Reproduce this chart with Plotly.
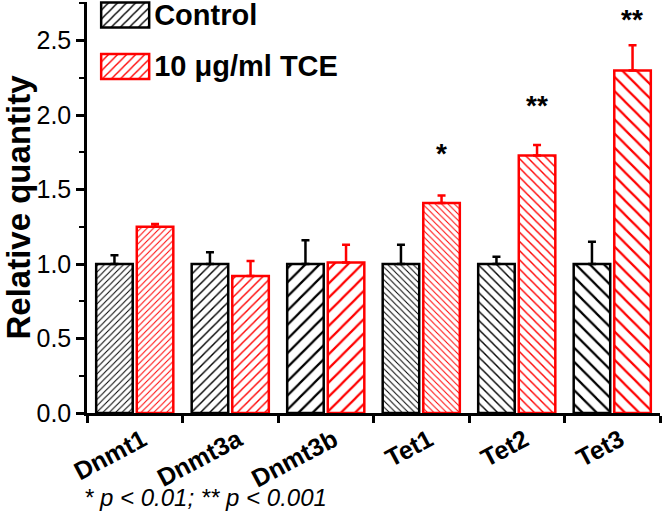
import plotly.graph_objects as go

genes = ["Dnmt1", "Dnmt3a", "Dnmt3b", "Tet1", "Tet2", "Tet3"]
control_vals = [1.00, 1.00, 1.00, 1.00, 1.00, 1.00]
control_err = [0.06, 0.08, 0.16, 0.13, 0.05, 0.15]
tce_vals = [1.25, 0.92, 1.01, 1.41, 1.73, 2.30]
tce_err = [0.02, 0.10, 0.12, 0.05, 0.07, 0.17]
significance = ["", "", "", "*", "**", "**"]
y_ticks = [0.0, 0.5, 1.0, 1.5, 2.0, 2.5]
footnote = "* p < 0.01; ** p < 0.001"

# styling
shapes = ["/", "/", "/", "\\", "\\", "\\"]
sizes = [4.5, 6.5, 10, 4.5, 6.5, 10]
star_shift = [0, 0, 0, 25, 22, 8]
FONT = "Liberation Sans, Arial, sans-serif"

fig = go.Figure()
fig.add_trace(go.Bar(
    x=genes, y=control_vals, name="Control", legendgroup="c",
    marker=dict(color="white", line=dict(color="black", width=2.5),
                pattern=dict(shape=shapes, size=sizes, solidity=0.22,
                             fgcolor="black", bgcolor="white", fillmode="replace")),
    error_y=dict(type="data", array=control_err, arrayminus=[0]*6, symmetric=False,
                 color="black", thickness=2.5, width=4),
))
fig.add_trace(go.Bar(
    x=genes, y=tce_vals, name="10 μg/ml TCE", legendgroup="t",
    marker=dict(color="white", line=dict(color="red", width=2.5),
                pattern=dict(shape=shapes, size=sizes, solidity=0.22,
                             fgcolor="red", bgcolor="white", fillmode="replace")),
    error_y=dict(type="data", array=tce_err, arrayminus=[0]*6, symmetric=False,
                 color="red", thickness=2.5, width=4),
))

for g, v, e, s, sh in zip(genes, tce_vals, tce_err, significance, star_shift):
    if s:
        fig.add_annotation(x=g, y=v + e, text=s, showarrow=False, xshift=20,
                           yanchor="bottom", yshift=sh,
                           font=dict(family=FONT, size=28, color="black", weight="bold"))

fig.add_annotation(x=0.0, y=0, xref="paper", yref="paper", xanchor="left", yanchor="middle",
                   text="<i>" + footnote + "</i>", showarrow=False, xshift=-5, yshift=-84,
                   font=dict(family=FONT, size=24, color="black"))

fig.update_layout(
    width=664, height=521,
    margin=dict(l=87, r=4, t=2, b=108, autoexpand=False),
    paper_bgcolor="white", plot_bgcolor="white",
    barmode="group", bargap=0.15, bargroupgap=0.1,
    font=dict(family=FONT, color="black"),
    showlegend=True,
    legend=dict(x=0.016, y=1.034, xanchor="left", yanchor="top",
                bgcolor="rgba(0,0,0,0)", tracegroupgap=11, itemwidth=48,
                font=dict(family=FONT, size=29, color="black", weight="bold")),
    xaxis=dict(showline=True, linecolor="black", linewidth=2.5, ticks="outside",
               tickson="boundaries", ticklen=7, tickwidth=2.5, tickcolor="black",
               tickangle=-28, ticklabelshift=8, automargin=False,
               tickfont=dict(family=FONT, size=25, color="black", weight="bold"),
               showgrid=False, zeroline=False),
    yaxis=dict(range=[0, 2.76], showline=True, linecolor="black", linewidth=2.5,
               ticks="outside", ticklen=8, tickwidth=2.5, tickcolor="black",
               tickvals=y_ticks, tickformat=".1f", automargin=False,
               minor=dict(dtick=0.25, ticks="outside", ticklen=5, tickwidth=2, tickcolor="black"),
               tickfont=dict(family=FONT, size=25, color="black"),
               title=dict(text="Relative quantity", standoff=4,
                          font=dict(family=FONT, size=33, color="black", weight="bold")),
               showgrid=False, zeroline=False),
)

# remove the browser's default page margin and widen the legend swatches
post = """
(function(){
  document.body.style.margin = '0';
  document.body.style.padding = '0';
  var fix = function(){
    document.querySelectorAll('g.legendpoints path').forEach(function(p){
      p.setAttribute('d', 'M24,14H-24V-11H24Z');
    });
  };
  fix();
  var gd = document.getElementById('{plot_id}');
  if (gd && gd.on) { gd.on('plotly_afterplot', fix); }
  requestAnimationFrame(fix);
  setTimeout(fix, 0); setTimeout(fix, 30); setTimeout(fix, 200);
})();
"""
fig.write_html("out.html", post_script=post, config={"displayModeBar": False})
